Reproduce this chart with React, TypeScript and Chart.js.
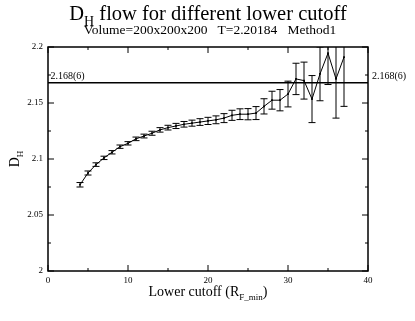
import React, { useEffect, useRef } from "react";
import { Chart, registerables } from "chart.js";

Chart.register(...registerables);

const cutoffs = [4, 5, 6, 7, 8, 9, 10, 11, 12, 13, 14, 15, 16, 17, 18, 19, 20, 21, 22, 23, 24, 25, 26, 27, 28, 29, 30, 31, 32, 33, 34, 35, 36, 37];
const dhValues = [2.077, 2.0875, 2.095, 2.101, 2.106, 2.111, 2.114, 2.118, 2.1205, 2.123, 2.126, 2.128, 2.1295, 2.131, 2.132, 2.133, 2.134, 2.135, 2.1365, 2.139, 2.140, 2.140, 2.141, 2.147, 2.1525, 2.1525, 2.158, 2.1715, 2.170, 2.1535, 2.176, 2.1945, 2.1715, 2.191];
const dhErrors = [0.002, 0.0018, 0.0016, 0.0015, 0.0015, 0.0015, 0.0015, 0.0016, 0.0017, 0.0018, 0.002, 0.0021, 0.0023, 0.0025, 0.0027, 0.003, 0.0032, 0.0035, 0.004, 0.0045, 0.0048, 0.005, 0.0058, 0.0068, 0.008, 0.0095, 0.0115, 0.014, 0.0165, 0.021, 0.024, 0.028, 0.035, 0.044];
const plateauValue = 2.168;
const plateauLabel = "2.168(6)";
const xRange = [0, 40];
const yRange = [2.0, 2.2];
const xStep = 10;
const yStep = 0.05;

const SERIF = '"Liberation Serif", "DejaVu Serif", serif';

function drawSub(ctx: CanvasRenderingContext2D, parts: { t: string; sub?: boolean }[], size: number, subSize: number, subDrop: number, cx: number, baseY: number) {
  let total = 0;
  const widths = parts.map((p) => {
    ctx.font = `${p.sub ? subSize : size}px ${SERIF}`;
    const w = ctx.measureText(p.t).width;
    total += w;
    return w;
  });
  let x = cx - total / 2;
  ctx.textAlign = "left";
  ctx.textBaseline = "alphabetic";
  parts.forEach((p, i) => {
    ctx.font = `${p.sub ? subSize : size}px ${SERIF}`;
    ctx.fillText(p.t, x, baseY + (p.sub ? subDrop : 0));
    x += widths[i];
  });
}

const decor = {
  id: "decor",
  afterDatasetsDraw(chart: any) {
    const { ctx, chartArea: a, scales } = chart;
    const xs = scales.x;
    const ys = scales.y;
    ctx.save();
    // error bars
    ctx.beginPath();
    ctx.rect(a.left, a.top, a.right - a.left, a.bottom - a.top);
    ctx.clip();
    ctx.strokeStyle = "#000";
    ctx.lineWidth = 1;
    cutoffs.forEach((c, i) => {
      const px = xs.getPixelForValue(c);
      const top = ys.getPixelForValue(dhValues[i] + dhErrors[i]);
      const bot = ys.getPixelForValue(dhValues[i] - dhErrors[i]);
      ctx.beginPath();
      ctx.moveTo(px, top);
      ctx.lineTo(px, bot);
      ctx.moveTo(px - 3.5, top);
      ctx.lineTo(px + 3.5, top);
      ctx.moveTo(px - 3.5, bot);
      ctx.lineTo(px + 3.5, bot);
      ctx.stroke();
    });
    // plateau line
    const py = ys.getPixelForValue(plateauValue);
    ctx.lineWidth = 1.5;
    ctx.beginPath();
    ctx.moveTo(a.left, py);
    ctx.lineTo(a.right, py);
    ctx.stroke();
    ctx.restore();

    ctx.save();
    ctx.fillStyle = "#000";
    ctx.strokeStyle = "#000";
    // frame
    ctx.lineWidth = 1.5;
    ctx.strokeRect(a.left, a.top, a.right - a.left, a.bottom - a.top);
    // ticks
    ctx.lineWidth = 1;
    ctx.beginPath();
    for (let v = xRange[0]; v <= xRange[1] + 1e-9; v += xStep / 2) {
      const px = xs.getPixelForValue(v);
      const major = Math.abs(v / xStep - Math.round(v / xStep)) < 1e-6;
      const len = major ? 6 : 3;
      ctx.moveTo(px, a.bottom);
      ctx.lineTo(px, a.bottom - len);
      ctx.moveTo(px, a.top);
      ctx.lineTo(px, a.top + len);
    }
    for (let k = 0; k <= Math.round((yRange[1] - yRange[0]) / (yStep / 2)); k++) {
      const v = yRange[0] + (k * yStep) / 2;
      const pyy = ys.getPixelForValue(v);
      const len = k % 2 === 0 ? 6 : 3;
      ctx.moveTo(a.left, pyy);
      ctx.lineTo(a.left + len, pyy);
      ctx.moveTo(a.right, pyy);
      ctx.lineTo(a.right - len, pyy);
    }
    ctx.stroke();
    // plateau labels
    ctx.font = `10px ${SERIF}`;
    ctx.textAlign = "left";
    ctx.textBaseline = "alphabetic";
    ctx.fillText(plateauLabel, a.left + 2.5, py - 4);
    ctx.fillText(plateauLabel, a.right + 4, py - 4);
    // titles
    drawSub(ctx, [{ t: "D" }, { t: "H", sub: true }, { t: " flow for different lower cutoff" }], 20.5, 14, 6, 208, 20);
    ctx.font = `13.5px ${SERIF}`;
    ctx.textAlign = "center";
    ctx.fillText("Volume=200x200x200   T=2.20184   Method1", 210, 34);
    // x axis title
    drawSub(ctx, [{ t: "Lower cutoff (R" }, { t: "F_min", sub: true }, { t: ")" }], 14, 9, 4, (a.left + a.right) / 2, 296);
    // y axis title
    ctx.translate(19, (a.top + a.bottom) / 2);
    ctx.rotate(-Math.PI / 2);
    drawSub(ctx, [{ t: "D" }, { t: "H", sub: true }], 14, 9, 4, 0, 0);
    ctx.restore();
  },
};

export default function App() {
  const ref = useRef<HTMLCanvasElement | null>(null);
  useEffect(() => {
    if (!ref.current) return;
    const chart = new Chart(ref.current, {
      type: "line",
      data: {
        datasets: [
          {
            data: cutoffs.map((c, i) => ({ x: c, y: dhValues[i] })),
            borderColor: "#000",
            backgroundColor: "#000",
            borderWidth: 1,
            pointRadius: 1.2,
            pointStyle: "rect",
            pointBorderWidth: 0,
            tension: 0,
          },
        ],
      },
      options: {
        responsive: false,
        animation: false,
        layout: { padding: { top: 47, right: 47, left: 0, bottom: 0 } },
        plugins: { legend: { display: false }, tooltip: { enabled: false }, title: { display: false } },
        scales: {
          x: {
            type: "linear",
            min: xRange[0],
            max: xRange[1],
            grid: { display: false, drawTicks: false },
            border: { display: false },
            ticks: { stepSize: xStep, color: "#000", font: { family: SERIF, size: 9 }, padding: 4, maxRotation: 0 },
            afterFit: (s: any) => {
              s.height = 50;
            },
          },
          y: {
            type: "linear",
            min: yRange[0],
            max: yRange[1],
            grid: { display: false, drawTicks: false },
            border: { display: false },
            ticks: {
              stepSize: yStep,
              color: "#000",
              font: { family: SERIF, size: 9 },
              padding: 5,
              callback: (v: any) => String(Number(Number(v).toFixed(3))),
            },
            afterFit: (s: any) => {
              s.width = 48;
            },
          },
        },
      },
      plugins: [decor],
    });
    return () => chart.destroy();
  }, []);
  return (
    <div style={{ position: "fixed", left: 0, top: 0, width: 415, height: 321, background: "#fff" }}>
      <canvas ref={ref} width={415} height={321} />
    </div>
  );
}
